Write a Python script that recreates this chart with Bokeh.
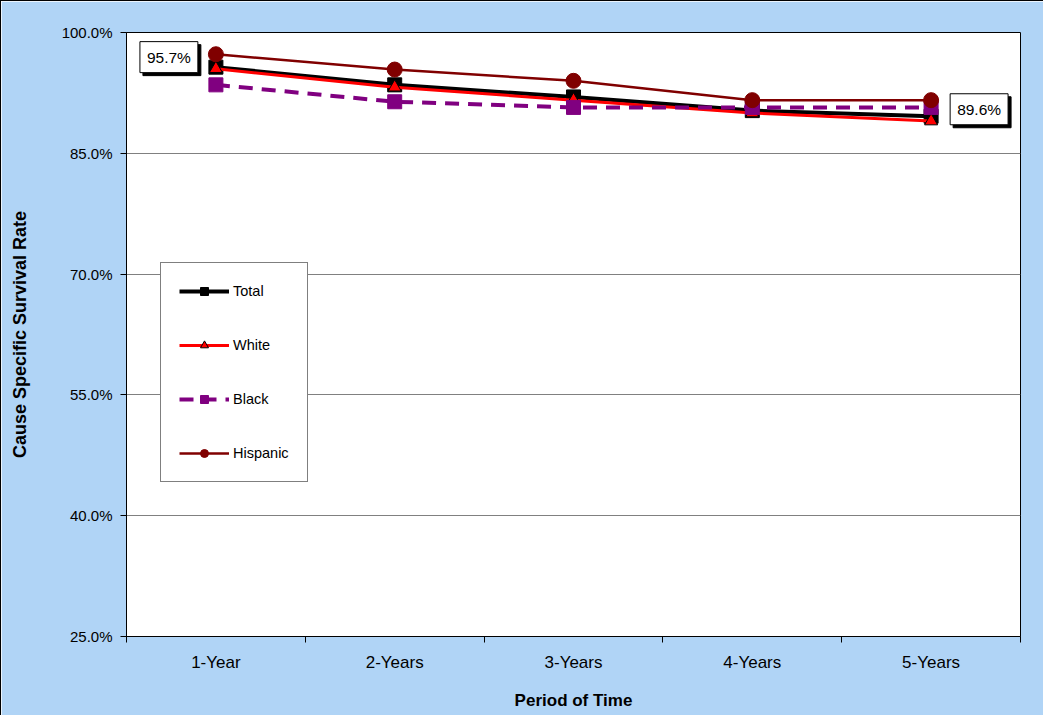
from bokeh.plotting import figure
from bokeh.models import Range1d, FixedTicker, PrintfTickFormatter, Legend, LegendItem, Label
from bokeh.embed import file_html
from bokeh.resources import INLINE

categories = ["1-Year", "2-Years", "3-Years", "4-Years", "5-Years"]
total = [95.7, 93.5, 92.0, 90.3, 89.6]
white = [95.5, 93.2, 91.6, 90.0, 89.0]
black = [93.5, 91.4, 90.7, 90.7, 90.7]
hispanic = [97.3, 95.4, 94.0, 91.6, 91.6]
y_ticks = [25, 40, 55, 70, 85, 100]

FONT = "Liberation Sans"
x = list(range(1, len(categories) + 1))

p = figure(width=1043, height=715, output_backend="svg", toolbar_location=None,
           x_range=Range1d(0.5, len(categories) + 0.5), y_range=Range1d(y_ticks[0], y_ticks[-1]),
           min_border_left=125, min_border_right=24, min_border_top=31, min_border_bottom=80)
p.styles = {"border-left": "1px solid black", "border-top": "1px solid black"}
p.background_fill_color = "white"
p.border_fill_color = "#B0D4F6"
p.outline_line_color = "black"
p.outline_line_width = 1

p.xgrid.visible = False
p.ygrid.ticker = FixedTicker(ticks=y_ticks)
p.ygrid.grid_line_color = "#808080"
p.ygrid.grid_line_width = 1

# y axis
ya = p.yaxis[0]
ya.ticker = FixedTicker(ticks=y_ticks)
ya.formatter = PrintfTickFormatter(format="%.1f%%")
ya.major_tick_in = 0
ya.major_tick_out = 6
ya.minor_tick_out = 0
ya.minor_tick_in = 0
ya.major_label_standoff = 8
ya.axis_line_color = "black"
ya.major_tick_line_color = "black"
ya.major_label_text_font = FONT
ya.major_label_text_font_size = "15px"
ya.major_label_text_color = "black"
ya.axis_label = "Cause Specific Survival Rate"
ya.axis_label_text_font = FONT
ya.axis_label_text_font_style = "bold"
ya.axis_label_text_font_size = "18px"
ya.axis_label_text_color = "black"
ya.axis_label_standoff = 29

# x axis
xa = p.xaxis[0]
xa.ticker = FixedTicker(ticks=x, minor_ticks=[v - 0.5 for v in x] + [x[-1] + 0.5])
xa.major_label_overrides = {v: c for v, c in zip(x, categories)}
xa.major_tick_in = 0
xa.major_tick_out = 0
xa.minor_tick_in = 0
xa.minor_tick_out = 6
xa.minor_tick_line_color = "black"
xa.axis_line_color = "black"
xa.major_label_standoff = 10
xa.major_label_text_font = FONT
xa.major_label_text_font_size = "17px"
xa.major_label_text_color = "black"
xa.axis_label = "Period of Time"
xa.axis_label_text_font = FONT
xa.axis_label_text_font_style = "bold"
xa.axis_label_text_font_size = "17px"
xa.axis_label_text_color = "black"
xa.axis_label_standoff = 16

# series
l1 = p.line(x, total, line_color="black", line_width=4)
s1 = p.scatter(x, total, marker="square", size=14, fill_color="black", line_color="black")
l2 = p.line(x, white, line_color="red", line_width=3)
s2 = p.scatter(x, white, marker="triangle", size=13, fill_color="red", line_color="black", line_width=1)
l3 = p.line(x, black, line_color="#800080", line_width=4, line_dash="14 9")
s3 = p.scatter(x, black, marker="square", size=14, fill_color="#800080", line_color="#800080")
l4 = p.line(x, hispanic, line_color="#800000", line_width=2.5)
s4 = p.scatter(x, hispanic, marker="circle", size=15, fill_color="#800000", line_color="#800000")

legend = Legend(items=[
    LegendItem(label="Total", renderers=[l1, s1]),
    LegendItem(label="White", renderers=[l2, s2]),
    LegendItem(label="Black", renderers=[l3, s3]),
    LegendItem(label="Hispanic", renderers=[l4, s4]),
], location=(34, 154))
legend.border_line_color = "black"
legend.border_line_width = 1
legend.background_fill_color = "white"
legend.background_fill_alpha = 1
legend.label_text_font = FONT
legend.label_text_font_size = "14.5px"
legend.label_text_color = "black"
legend.glyph_width = 50
legend.glyph_height = 20
legend.label_height = 20
legend.spacing = 34
legend.padding = 18
legend.margin = 0
legend.label_standoff = 4
p.add_layout(legend)

# data labels with shadow
def add_label(xv, yv, xo, yo):
    txt = f"{yv:.1f}%"
    shadow = Label(x=xv, y=yv, x_offset=xo + 3, y_offset=yo - 3, text=txt,
                   text_align="center", text_baseline="middle",
                   text_font=FONT, text_font_size="15.5px", text_color="black",
                   background_fill_color="black", border_line_color="black", padding=7)
    lab = Label(x=xv, y=yv, x_offset=xo, y_offset=yo, text=txt,
                text_align="center", text_baseline="middle",
                text_font=FONT, text_font_size="15.5px", text_color="black",
                background_fill_color="white", border_line_color="black", padding=7)
    p.add_layout(shadow)
    p.add_layout(lab)

add_label(x[0], total[0], -47, 10)
add_label(x[-1], total[-1], 48, 7)

open("out.html", "w").write(file_html(p, INLINE))
